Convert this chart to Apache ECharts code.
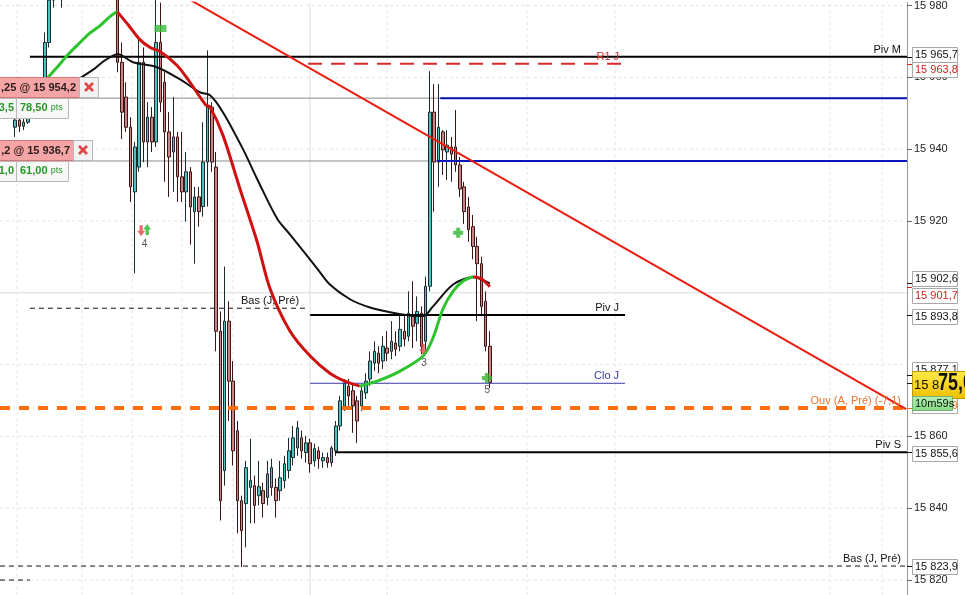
<!DOCTYPE html>
<html><head><meta charset="utf-8">
<script src="https://cdn.jsdelivr.net/npm/echarts@6/dist/echarts.min.js"></script>
<style>html,body{margin:0;padding:0;background:#fff;overflow:hidden}#c{width:965px;height:595px}</style>
</head><body><div id="c"></div>
<script>
// ---------- DATA ----------
const slotCount = 212;           // time slots on the x axis
const firstCandle = 3;           // slot of the first candle
// [open, close, low, high]
const candles = [
[15946.1,15948.1,15943.4,15949.7],[15948.1,15946.4,15944.8,15948.9],[15946.4,15947.5,15945.3,15949.7],[15947.5,15949.7,15947.0,15951.7],
[15949.7,15951.7,15948.9,15953.6],[15951.7,15953.1,15950.3,15955.3],[15953.1,15957.2,15951.7,15960.0],[15957.2,15969.7,15956.4,15972.5],
[15969.7,15981.5,15968.3,15986.0],[15981.5,15987.0,15979.4,15990.0],[15987.0,15984.5,15982.0,15991.5],[15984.5,15989.0,15979.4,15993.0],
[15989.0,15992.5,15986.0,15996.0],[15992.5,15990.0,15987.5,15995.5],[15990.0,15994.0,15988.0,15997.5],[15994.0,15997.0,15991.5,16000.0],
[15997.0,15993.5,15991.0,15999.0],[15993.5,15996.5,15990.5,15999.5],[15996.5,15999.0,15994.0,16002.0],[15999.0,15995.0,15993.0,16001.0],
[15995.0,15991.0,15989.0,15997.0],[15991.0,15994.0,15988.5,15996.5],[15994.0,15989.0,15986.0,15995.5],[15989.0,15984.0,15981.5,15991.0],
[15984.0,15964.2,15961.4,15986.0],[15964.2,15950.3,15942.8,15969.7],[15954.5,15946.1,15944.8,15958.6],[15946.1,15929.5,15925.3,15948.9],
[15928.1,15940.6,15905.4,15942.0],[15935.0,15964.2,15933.7,15971.6],[15964.2,15942.0,15936.4,15968.3],[15942.0,15948.9,15935.0,15953.1],
[15948.9,15942.0,15939.2,15951.7],[15942.0,15969.7,15940.6,15982.2],[15969.7,15953.1,15950.3,15980.8],[15958.6,15944.8,15930.9,15961.4],
[15944.8,15937.8,15926.7,15950.3],[15939.2,15943.4,15928.1,15954.5],[15943.4,15932.3,15925.3,15944.8],[15932.3,15928.1,15925.3,15944.8],
[15928.1,15933.7,15919.8,15939.2],[15933.7,15923.9,15913.4,15935.0],[15922.6,15926.7,15908.1,15929.5],[15926.7,15922.6,15918.4,15929.5],
[15924.0,15936.4,15921.2,15947.5],[15936.4,15951.7,15924.0,15967.5],[15951.7,15936.4,15933.7,15953.1],[15935.0,15889.3,15883.7,15939.2],
[15889.3,15842.1,15836.6,15894.8],[15850.5,15892.1,15846.3,15907.3],[15892.1,15875.4,15864.3,15897.6],[15875.4,15856.0,15851.9,15881.0],
[15861.6,15842.1,15833.0,15864.3],[15842.1,15833.8,15823.6,15843.5],[15841.3,15851.3,15829.1,15853.2],[15845.8,15847.7,15835.8,15859.3],
[15846.3,15840.8,15835.8,15849.1],[15843.5,15846.0,15840.8,15853.2],[15844.9,15841.3,15837.4,15847.1],[15843.0,15849.6,15840.8,15853.2],
[15845.8,15851.3,15843.5,15853.8],[15845.8,15842.1,15837.4,15848.3],[15844.9,15848.5,15842.1,15853.2],[15847.7,15852.4,15845.5,15854.6],
[15850.5,15856.0,15848.3,15859.6],[15854.1,15859.6,15851.9,15862.9],[15856.8,15862.4,15854.6,15864.3],[15859.6,15856.0,15853.8,15861.6],
[15855.5,15858.2,15852.7,15860.2],[15858.2,15852.4,15849.9,15859.3],[15853.2,15856.6,15851.6,15858.0],[15856.0,15853.8,15851.0,15857.1],
[15853.2,15854.1,15851.3,15855.5],[15854.1,15852.7,15851.3,15855.5],[15852.7,15856.8,15851.6,15857.4],[15856.0,15862.9,15854.6,15864.3],
[15862.9,15869.9,15861.6,15871.3],[15868.5,15874.9,15867.1,15876.0],[15874.0,15871.3,15868.5,15876.0],[15872.7,15868.5,15861.0,15874.9],
[15869.9,15864.3,15858.2,15871.3],[15868.5,15872.7,15867.1,15874.0],[15872.1,15875.4,15870.4,15877.6],[15876.0,15881.0,15874.0,15883.7],
[15880.4,15883.7,15878.2,15886.5],[15883.2,15880.4,15877.6,15885.1],[15881.0,15885.1,15878.8,15887.9],[15884.6,15883.2,15881.0,15889.3],
[15883.7,15886.5,15881.5,15892.1],[15886.0,15884.3,15882.4,15889.3],[15885.1,15889.8,15883.7,15893.5],[15889.3,15887.1,15885.1,15893.5],
[15887.9,15894.3,15886.5,15900.4],[15893.5,15890.7,15884.6,15903.2],[15891.5,15894.8,15886.5,15899.0],[15894.3,15885.1,15882.9,15896.2],
[15886.5,15901.8,15883.7,15904.5],[15901.8,15950.3,15900.4,15961.7],[15950.3,15936.4,15922.6,15958.1],[15936.4,15946.1,15929.5,15958.1],
[15944.8,15939.8,15932.8,15945.3],[15939.2,15941.1,15931.4,15945.3],[15940.6,15938.6,15930.9,15943.4],[15940.6,15935.6,15933.7,15950.9],
[15935.6,15928.9,15926.7,15937.8],[15929.5,15922.6,15919.2,15930.9],[15923.9,15917.6,15914.2,15926.7],[15918.4,15912.9,15909.3,15921.7],
[15912.9,15908.1,15892.1,15915.6],[15908.1,15896.2,15893.5,15910.1],[15897.6,15885.1,15883.7,15900.4],[15885.1,15875.0,15873.5,15889.3]
];
// fast moving average [slot, price] (green rising / red falling)
const fastMA = [
[10.0,15959.0],[13.0,15963.0],[15.2,15966.1],[18.2,15969.7],[20.5,15972.3],[22.9,15974.4],[25.2,15976.9],[26.9,15978.3],
[29.4,15974.7],[32.2,15970.5],[34.6,15968.3],[36.9,15967.2],[40.9,15963.3],[43.9,15958.6],[47.6,15952.3],[48.6,15951.7],
[51.6,15943.9],[55.6,15928.9],[59.6,15914.2],[62.6,15901.2],[67.3,15889.3],[72.0,15882.4],[76.6,15877.6],[80.1,15875.4],[83.6,15874.0],
[88.3,15875.7],[93.0,15878.2],[98.4,15882.4],[100.7,15887.4],[103.1,15895.7],[105.4,15900.4],[107.7,15903.2],[110.1,15904.5],
[112.0,15903.9],[114.0,15901.7]
];
// slow moving average [slot, price]
const slowMA = [
[13.5,15956.4],[17.7,15959.4],[21.7,15962.5],[24.0,15964.7],[27.1,15966.4],[30.6,15964.2],[36.2,15962.8],[41.6,15959.4],
[46.3,15955.8],[48.6,15955.0],[51.6,15950.3],[56.3,15940.0],[59.6,15931.7],[64.3,15920.6],[67.3,15916.2],[73.6,15906.8],
[76.6,15902.3],[81.3,15898.2],[86.0,15895.9],[90.7,15894.6],[95.3,15893.7],[98.4,15893.5],[100.7,15896.2],[105.4,15902.3],
[110.1,15904.3],[114.0,15902.6]
];
const trendLine = [[42.0,15982.9],[211.3,15867.6]];
// horizontal levels
const levelNames  = ['Piv M','R1 J','Bas (J, Pré)','Piv J','Clo J','Ouv (A, Pré) (-7,1)','Piv S','Bas (J, Pré)',''];
const levelKinds  = ['pivot','r1','low','pivot','close','open','pivot','low','low'];
const levelPrices = [15965.7,15963.8,15895.7,15893.8,15874.8,15867.9,15855.6,15823.9,15820.0];
const levelFrom   = [6.5,71.5,6.5,72.0,72.0,-0.5,77.8,-0.5,-0.5];
const levelTo     = [211.5,145.6,70.8,145.6,145.6,211.5,211.5,211.5,6.5];
// orders
const orderPrices = [15954.2,15936.7];
const orderTexts  = [',25 @ 15 954,2', ',2 @ 15 936,7'];
const orderQty    = ['3,5','1,0'];
const orderPts    = ['78,50','61,00'];
const orderTargetFrom = [102.4,101.6];
// right side price tags
const tagPrices = [15965.7,15963.8,15902.6,15901.7,15893.8,15877.1,15867.9,15855.6,15823.9];
const tagKinds  = ['black','red','black','red','black','black','orange','black','black'];
const lastPrice = 15875.0;
const timerText = '10m59s';
// signals
const signalSlots  = [32.5,33.9,37.0,98.4,106.6,113.3];
const signalPrices = [15917.3,15917.6,15973.6,15884.3,15916.7,15876.3];
const signalKinds  = ['sell','buy','box','sell','clover','clover'];
const signalLabelSlots  = [33.3,98.6,113.4];
const signalLabelPrices = [15913.4,15880.4,15872.9];
const signalLabelTexts  = ['4','3','5'];
// axis
const yMin = 15815.84, yMax = 15980.83;
const yTicks = [15820,15840,15860,15920,15940,15960,15980];
const gridPrices = [15820,15840,15860,15880,15900,15920,15940,15960,15980];
const gridSlots = [3.47,18.67,30.36,42.04,53.96,71.96,89.96,122.7,143.3,193.5,205.7];
const majorGridPrice = 15900, sessionSlot = 71.96;

// ---------- CHART ----------
const FONT = '"Liberation Sans", Arial, sans-serif';
const fmt = (v, d) => {
  const s = d == null ? String(Math.round(v)) : v.toFixed(d).replace('.', ',');
  return s.replace(/^(\d+)(\d{3})/, '$1 $2');
};
const chart = echarts.init(document.getElementById('c'));
const slots = Array.from({length: slotCount}, (_, i) => String(i));
const candleData = slots.map((_, i) => {
  const k = i - firstCandle;
  return (k >= 0 && k < candles.length) ? candles[k] : '-';
});
const X0 = -0.5, X1 = slotCount - 0.5;
const series = [];
const lineBase = {type:'line', xAxisIndex:1, yAxisIndex:0, symbol:'none', showSymbol:false, silent:true, animation:false};

gridPrices.forEach(v => series.push(Object.assign({}, lineBase, {
  data:[[X0,v],[X1,v]], z:0,
  lineStyle:{color: v===majorGridPrice ? '#dcdcdc' : '#e6e6e6', width:1, type: v===majorGridPrice ? 'solid' : [3,3]}
})));
gridSlots.forEach(s => series.push(Object.assign({}, lineBase, {
  data:[[s,yMin],[s,yMax]], z:0,
  lineStyle:{color: s===sessionSlot ? '#dcdcdc' : '#e6e6e6', width:1, type: s===sessionSlot ? 'solid' : [3,3]}
})));
orderPrices.forEach((p, i) => {
  series.push(Object.assign({}, lineBase, {data:[[X0,p],[X1,p]], z:2, lineStyle:{color:'#8c8c8c', width:1}}));
  series.push(Object.assign({}, lineBase, {data:[[orderTargetFrom[i],p],[X1,p]], z:4, lineStyle:{color:'#0a14b8', width:2}}));
});
series.push({type:'candlestick', xAxisIndex:0, yAxisIndex:0, data:candleData, barWidth:3, z:3, animation:false, silent:true,
  itemStyle:{color:'#4cc3c3', color0:'#c98585', borderColor:'#1c2c2c', borderColor0:'#3c1414', borderWidth:1}});
const levelStyle = {
  pivot:{color:'#000', width:2, type:'solid'},
  r1:{color:'#d42a2a', width:2, type:[14,9]},
  low:{color:'#111', width:1, type:[5,4]},
  close:{color:'#3a3aa8', width:1, type:'solid'},
  open:{color:'#ff6d0c', width:4, type:[10,9]}
};
const levelText = {pivot:'#111', r1:'#d42a2a', low:'#111', close:'#3a3aa8', open:'#e8742a'};
levelPrices.forEach((p, i) => series.push(Object.assign({}, lineBase, {
  data:[[levelFrom[i],p],[levelTo[i],p]], z:4, lineStyle:levelStyle[levelKinds[i]]
})));
series.push(Object.assign({}, lineBase, {data:slowMA, smooth:0.3, z:5, lineStyle:{color:'#111', width:2}}));
// split the fast MA into rising / falling runs
let run = [fastMA[0]], runUp = fastMA[1][1] >= fastMA[0][1];
for (let i = 1; i < fastMA.length; i++) {
  const up = fastMA[i][1] >= fastMA[i-1][1];
  if (up !== runUp) {
    series.push(Object.assign({}, lineBase, {data:run, smooth:0.3, z:6, lineStyle:{color: runUp ? '#2ec42e' : '#cf1111', width:3}}));
    run = [fastMA[i-1]]; runUp = up;
  }
  run.push(fastMA[i]);
}
series.push(Object.assign({}, lineBase, {data:run, smooth:0.3, z:6, lineStyle:{color: runUp ? '#2ec42e' : '#cf1111', width:3}}));
series.push(Object.assign({}, lineBase, {data:trendLine, z:7, lineStyle:{color:'#ea1c10', width:2}}));
const sigSym = {
  sell:{symbol:'path://M3,0H7V6H10L5,12L0,6H3Z', symbolSize:[8,11], color:'#e34848'},
  buy:{symbol:'path://M5,0L10,6H7V12H3V6H0Z', symbolSize:[8,11], color:'#26b526'},
  box:{symbol:'rect', symbolSize:[12,7], color:'#3cbc3c'},
  clover:{symbol:'path://M3,0H7V3H10V7H7V10H3V7H0V3H3Z', symbolSize:[10,10], color:'#2fb52f'}
};
series.push({type:'scatter', xAxisIndex:1, yAxisIndex:0, z:8, silent:true, animation:false,
  data: signalSlots.map((s, i) => {
    const st = sigSym[signalKinds[i]];
    return {value:[s, signalPrices[i]], symbol:st.symbol, symbolSize:st.symbolSize, itemStyle:{color:st.color}};
  })});

chart.setOption({
  animation:false,
  backgroundColor:'#ffffff',
  grid:{left:0, right:58, top:0, bottom:0, containLabel:false},
  xAxis:[
    {type:'category', data:slots, show:false, boundaryGap:true},
    {type:'value', min:X0, max:X1, show:false}
  ],
  yAxis:{type:'value', position:'right', min:yMin, max:yMax, scale:true,
    axisLine:{show:true, onZero:false, lineStyle:{color:'#9a9a9a'}},
    axisTick:{show:true, length:5, customValues:yTicks, lineStyle:{color:'#666'}},
    axisLabel:{show:true, margin:7, customValues:yTicks, color:'#222', fontSize:11, fontFamily:FONT, formatter:v => fmt(v)},
    splitLine:{show:false}, minorTick:{show:false}, minorSplitLine:{show:false}},
  series
});

// ---------- OVERLAYS (positions from the axes) ----------
const px = (s, p) => chart.convertToPixel({xAxisIndex:1, yAxisIndex:0}, [s, p]);
const py = p => chart.convertToPixel({yAxisIndex:0}, p);
const g = [];
const txt = (x, y, text, fill, font, align, z) => ({type:'text', z: z || 50, silent:true,
  style:{x, y, text, fill, font, align: align || 'left', verticalAlign:'middle', textAlign: align || 'left', textVerticalAlign:'middle'}});
// level labels
levelPrices.forEach((p, i) => {
  if (!levelNames[i]) return;
  const [xe, ye] = px(levelTo[i], p);
  g.push(txt(xe - 6, ye - 7, levelNames[i], levelText[levelKinds[i]], '11px ' + FONT, 'right', 20));
});
// signal numbers
signalLabelSlots.forEach((s, i) => {
  const [x, y] = px(s, signalLabelPrices[i]);
  g.push(txt(x, y, signalLabelTexts[i], '#555', '10px ' + FONT, 'center', 20));
});
// order boxes
const pinkW = [80, 74];
orderPrices.forEach((p, i) => {
  const y = Math.round(py(p));
  const w = pinkW[i];
  g.push({type:'rect', z:60, shape:{x:-2.5, y:y-20.5, width:w+2, height:20}, style:{fill:'#f5a5a5', stroke:'#d27878', lineWidth:1}});
  g.push(txt(w - 4, y - 10, orderTexts[i], '#2a1a1a', 'bold 11px ' + FONT, 'right', 61));
  g.push({type:'rect', z:60, shape:{x:w-0.5, y:y-20.5, width:19, height:20}, style:{fill:'#f3f3f3', stroke:'#b8b8b8', lineWidth:1}});
  g.push({type:'line', z:61, shape:{x1:w+5, y1:y-15, x2:w+13, y2:y-7}, style:{stroke:'#e04646', lineWidth:2.6}});
  g.push({type:'line', z:61, shape:{x1:w+13, y1:y-15, x2:w+5, y2:y-7}, style:{stroke:'#e04646', lineWidth:2.6}});
  g.push({type:'rect', z:60, shape:{x:-2.5, y:y+0.5, width:19, height:20}, style:{fill:'#f7f7f7', stroke:'#b8b8b8', lineWidth:1}});
  g.push(txt(14, y + 10, orderQty[i], '#2a962a', 'bold 11px ' + FONT, 'right', 61));
  g.push({type:'rect', z:60, shape:{x:16.5, y:y+0.5, width:52, height:20}, style:{fill:'#f7f7f7', stroke:'#b8b8b8', lineWidth:1}});
  g.push({type:'text', z:61, silent:true, style:{x:20, y:y+10, text:'{a|' + orderPts[i] + '} {b|pts}', verticalAlign:'middle', textVerticalAlign:'middle',
    rich:{a:{font:'bold 11px ' + FONT, fill:'#2a962a'}, b:{font:'9px ' + FONT, fill:'#2a962a'}}}});
});
// right price tags
const tagColor = {black:'#111', red:'#d42020', orange:'#e8701a'};
const tagNudge = [-2, 6, -4, 9, 2, -5, -2, 2, 1];
tagPrices.forEach((p, i) => {
  const yv = py(p);
  const cy = Math.round(yv + tagNudge[i]);
  g.push({type:'line', z:70, shape:{x1:907, y1:Math.round(yv)+0.5, x2:912, y2:Math.round(yv)+0.5}, style:{stroke:tagColor[tagKinds[i]], lineWidth:1}});
  g.push({type:'rect', z:71, shape:{x:912.5, y:cy-7.5, width:45, height:15}, style:{fill:'#ffffff', stroke:'#a8a8a8', lineWidth:1}});
  g.push(txt(915, cy, fmt(p, 1), tagColor[tagKinds[i]], '11px ' + FONT, 'left', 72));
});
// last price box
{
  const yv = py(lastPrice), cy = Math.round(yv + 2);
  const s = fmt(lastPrice, 1);
  g.push({type:'line', z:80, shape:{x1:907, y1:Math.round(yv)+0.5, x2:912, y2:Math.round(yv)+0.5}, style:{stroke:'#111', lineWidth:1}});
  g.push({type:'rect', z:81, shape:{x:912.5, y:cy-13.5, width:60, height:27},
    style:{fill:new echarts.graphic.LinearGradient(0,0,0,1,[{offset:0,color:'#ffe94a'},{offset:1,color:'#f0be00'}]), stroke:'#b99b00', lineWidth:1}});
  g.push({type:'text', z:82, silent:true, x:914, y:cy + 7, style:{x:0, y:0, text:s.slice(0,4), font:'13px ' + FONT, fill:'#111',
    align:'left', verticalAlign:'bottom', textAlign:'left', textVerticalAlign:'bottom'}});
  g.push({type:'text', z:82, silent:true, x:938, y:cy + 10, scaleX:0.78, scaleY:1, style:{x:0, y:0, text:s.slice(4), font:'bold 23px ' + FONT, fill:'#111',
    align:'left', verticalAlign:'bottom', textAlign:'left', textVerticalAlign:'bottom'}});
  const ty = cy + 19;
  g.push({type:'rect', z:83, shape:{x:912.5, y:ty-7.5, width:40, height:14},
    style:{fill:new echarts.graphic.LinearGradient(0,0,0,1,[{offset:0,color:'#b4f0b4'},{offset:1,color:'#84dc84'}]), stroke:'#78b078', lineWidth:1}});
  g.push(txt(915, ty - 0.5, timerText, '#111', '11px ' + FONT, 'left', 84));
}
chart.setOption({graphic:{elements:g}});
</script>
</body></html>
